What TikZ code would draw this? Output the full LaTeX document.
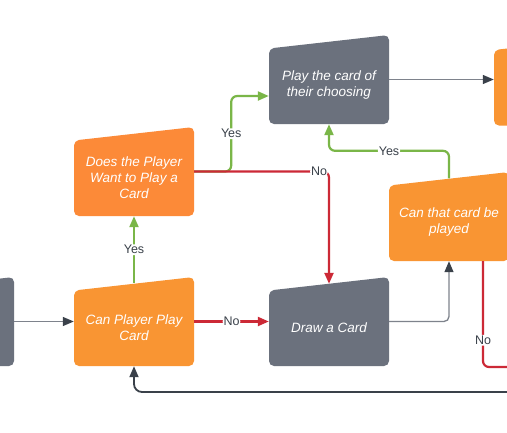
\documentclass[tikz,border=0pt]{standalone}
\usepackage{fontspec}
\setmainfont{Liberation Sans}
\usetikzlibrary{arrows.meta}
\definecolor{orA}{HTML}{F99533}
\definecolor{orB}{HTML}{FC8A38}
\definecolor{grayBox}{HTML}{6B717D}
\definecolor{redL}{HTML}{CC2936}
\definecolor{greenL}{HTML}{7AB648}
\definecolor{darkL}{HTML}{3A414A}
\definecolor{grayL}{HTML}{7E838C}
\begin{document}
\begin{tikzpicture}[x=1pt,y=-1pt,
  manual/.style={minimum width=120pt, minimum height=89pt, inner sep=0pt,
    path picture={\fill[#1, rounded corners=5pt]
      (path picture bounding box.south west) --
      ([yshift=-13.5pt]path picture bounding box.north west) --
      (path picture bounding box.north east) --
      (path picture bounding box.south east) -- cycle;}},
  txt/.style={text=white, font=\fontsize{13.5}{16}\selectfont\itshape, align=center, inner sep=0pt},
  lbl/.style={fill=white, text=darkL, font=\fontsize{12.5}{14}\selectfont, inner sep=1pt},
  tip/.style={-{Triangle[length=11pt,width=9pt,color=#1]}},
  grayline/.style={draw=grayL, line width=1.3pt, tip=darkL},
  redline/.style={draw=redL, line width=2.2pt, rounded corners=6pt},
  greenline/.style={draw=greenL, line width=2.2pt, rounded corners=6pt, tip=greenL},
  darkline/.style={draw=darkL, line width=1.8pt, rounded corners=8pt, tip=darkL}
]
\clip (0,0) rectangle (507,432);
\fill[white] (0,0) rectangle (507,432);

% boxes
\node[manual=grayBox] (start) at (-46,321.5) {};
\node[manual=orA] (can) at (134,321.5) {};
\node[txt] (can-t) at ([yshift=-6pt]can.center) {Can Player Play\\Card};
\node[manual=orB] (does) at (134,171.5) {};
\node[txt] (does-t) at ([yshift=-6pt]does.center) {Does the Player\\Want to Play a\\Card};
\node[manual=grayBox] (play) at (329,79.5) {};
\node[txt] (play-t) at ([yshift=-6pt]play.center) {Play the card of\\their choosing};
\node[manual=grayBox] (draw) at (329,321.5) {};
\node[txt] (draw-t) at ([yshift=-6pt]draw.center) {Draw a Card};
\node[manual=orA] (canthat) at (449,216.5) {};
\node[txt] (canthat-t) at ([yshift=-6pt]canthat.center) {Can that card be\\played};
\node[manual=orA] (right) at (554,81) {};

\coordinate (offR) at (520,367);
\coordinate (offB) at (520,392);

% connectors
\draw[grayline] (start.east) -- (can.west);
\draw[redline, tip=redL] (can.east) -- node[lbl]{No} (draw.west);
\draw[greenline] ([yshift=-6.5pt]can.north) -- node[lbl]{Yes} (does.south);
\draw[greenline] (does.east) -- ++(37,0) |- node[lbl, pos=0.25]{Yes} ([yshift=-16.5pt]play.west);
\draw[redline, tip=redL] (does.east) -| node[lbl, pos=0.463]{No} ([yshift=-7pt]draw.north);
\draw[grayline, rounded corners=5pt] (draw.east) -| (canthat.south);
\draw[greenline] ([yshift=-6.5pt]canthat.north) -- ++(0,-27.5) -| node[lbl, pos=0.25]{Yes} (play.south);
\draw[grayline] (play.east) -- (play.east -| right.west);
\draw[redline] ([xshift=34pt]canthat.south) |- node[lbl, pos=0.374]{No} (offR);
\draw[darkline] (offB) -| (can.south);
\end{tikzpicture}
\end{document}
